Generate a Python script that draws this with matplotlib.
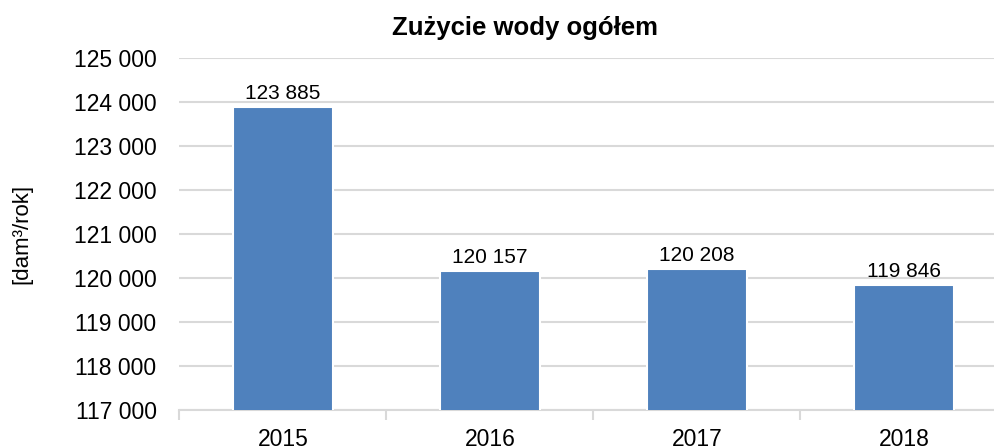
import matplotlib
matplotlib.use("Agg")
from matplotlib import pyplot as plt
from matplotlib.ticker import FixedLocator, FuncFormatter

years = ["2015", "2016", "2017", "2018"]
values = [123885, 120157, 120208, 119846]
y_ticks = [117000, 118000, 119000, 120000, 121000, 122000, 123000, 124000, 125000]

plt.rcParams['font.family'] = ['Liberation Sans', 'DejaVu Sans']


def fmt_space(v, pos=None):
    return "{:,.0f}".format(v).replace(",", " ")


fig = plt.figure(figsize=(9.95, 4.48), dpi=100)
# plot area runs a bit past the right edge of the picture, as in the original
ax = fig.add_axes([179.5 / 995, 38 / 448, 828 / 995, 352 / 448])

x = range(len(years))
bars = ax.bar(x, values, width=0.485, color='#4f81bd', edgecolor='white', linewidth=1.5, zorder=3)

for xi, v in zip(x, values):
    ax.annotate(fmt_space(v), (xi, v), xytext=(0, 3), textcoords='offset points',
                ha='center', va='bottom', fontsize=15, color='#000000', zorder=4)

ax.set_xlim(-0.5, len(years) - 0.5)
ax.set_ylim(117000, 125000)
ax.yaxis.set_major_locator(FixedLocator(y_ticks))
ax.yaxis.set_major_formatter(FuncFormatter(fmt_space))
ax.set_xticks(list(x))
ax.set_xticklabels(years)
ax.xaxis.set_minor_locator(FixedLocator([i - 0.5 for i in range(len(years) + 1)]))

ax.grid(axis='y', color='#d9d9d9', linewidth=1.5, zorder=0)
for s in ['top', 'right', 'left']:
    ax.spines[s].set_visible(False)
ax.spines['bottom'].set_color('#d9d9d9')
ax.spines['bottom'].set_linewidth(1.5)

ax.tick_params(axis='y', length=0, pad=16.5, labelsize=16.5)
ax.tick_params(axis='x', which='major', length=0, pad=13, labelsize=16.5)
ax.tick_params(axis='x', which='minor', length=7, width=1.5, color='#d9d9d9')

ax.set_ylabel("[dam³/rok]", fontsize=16, labelpad=30)

fig.text(525 / 995, 420 / 448, "Zużycie wody ogółem", ha='center', va='center',
         fontsize=18.5, fontweight='bold')

fig.savefig("out.png", dpi=100)
